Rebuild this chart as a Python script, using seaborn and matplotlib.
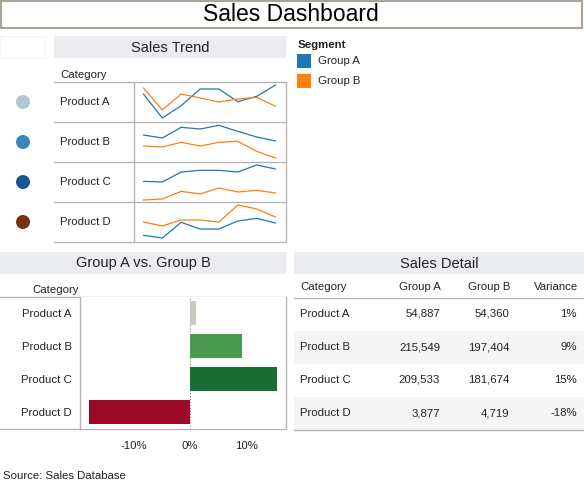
import numpy as np
import pandas as pd
import matplotlib
matplotlib.use("Agg")
import matplotlib.pyplot as plt
from matplotlib.patches import Rectangle, Circle
import seaborn as sns

sns.set_theme(style="white")
plt.rcParams['font.family'] = ['Liberation Sans', 'DejaVu Sans']

## data
categories = ["Product A", "Product B", "Product C", "Product D"]
segments = ["Group A", "Group B"]
periods = [1, 2, 3, 4, 5, 6, 7, 8]
trend_a = {"Product A": [84, 12, 49, 99, 99, 61, 77, 111],
           "Product B": [81, 72, 104, 99, 110, 92, 75, 63],
           "Product C": [62, 60, 90, 95, 95, 90, 111, 99],
           "Product D": [20, 12, 59, 39, 39, 63, 71, 57]}
trend_b = {"Product A": [102, 36, 84, 72, 60, 69, 74, 47],
           "Product B": [48, 45, 59, 48, 59, 62, 32, 12],
           "Product C": [6, 9, 32, 24, 42, 30, 35, 27],
           "Product D": [60, 48, 66, 66, 60, 111, 99, 75]}
group_a = [54887, 215549, 209533, 3877]
group_b = [54360, 197404, 181674, 4719]
variance = [0.97, 9.19, 15.33, -17.84]

seg_colors = ["#1F77B4", "#FF7F0E"]
dot_colors = ["#AFC8D3", "#3A87BD", "#1B5494", "#7A2E14"]
bar_colors = ["#C5CBBF", "#4A9A52", "#1A6E33", "#9B0A26"]

W, H = 584, 484
fig = plt.figure(figsize=(W/100, H/100), dpi=100)

def px_axes(x0, y0, x1, y1):
    return fig.add_axes([x0/W, 1-y1/H, (x1-x0)/W, (y1-y0)/H])

# background axes in pixel coords for boxes / text
bg = fig.add_axes([0, 0, 1, 1])
bg.set_xlim(0, W)
bg.set_ylim(H, 0)
bg.axis('off')

grid_c = "#B4B4B4"
band_c = "#EBECEF"
txt = 8.2

# title
bg.add_patch(Rectangle((1, 1), 581, 27, fill=False, ec="#A8A498", lw=1.5))
bg.text(291, 14.5, "Sales Dashboard", ha='center', va='center', fontsize=16.5, color='black')

# header bands
bg.add_patch(Rectangle((0, 36), 45, 22, fc='white', ec='#F2F2F2', lw=0.6))
bg.add_patch(Rectangle((54, 36), 232, 22, fc=band_c, ec='none'))
bg.text(170, 47.5, "Sales Trend", ha='center', va='center', fontsize=10.5, color='#222222')
bg.add_patch(Rectangle((0, 252), 286, 22, fc=band_c, ec='none'))
bg.text(143, 263.5, "Group A vs. Group B", ha='center', va='center', fontsize=10.5, color='#222222')
bg.add_patch(Rectangle((294, 252), 290, 22, fc=band_c, ec='none'))
bg.text(439, 263.5, "Sales Detail", ha='center', va='center', fontsize=10.5, color='#222222')

# legend
bg.text(298, 45, "Segment", ha='left', va='center', fontsize=txt, fontweight='bold', color='#222222')
for i, s in enumerate(segments):
    y = 61 + i*20
    bg.add_patch(Rectangle((297, y-7), 14, 14, fc=seg_colors[i], ec='none'))
    bg.text(318, y, s, ha='left', va='center', fontsize=txt, color='#222222')

# sparkline table
bg.text(60, 75, "Category", ha='left', va='center', fontsize=txt, color='#222222')
row_top = [82, 122, 162, 202]
for y in row_top + [242]:
    bg.plot([54, 286], [y, y], color=grid_c, lw=1)
bg.plot([134, 134], [82, 242], color=grid_c, lw=1)
bg.plot([285.5, 285.5], [82, 242], color=grid_c, lw=1)
for i, c in enumerate(categories):
    yc = row_top[i] + 20
    bg.add_patch(Circle((23, yc), 7, fc=dot_colors[i], ec='none'))
    bg.text(60, yc, c, ha='left', va='center', fontsize=txt, color='#222222')
    df = pd.DataFrame({"period": periods*2,
                       "sales": trend_a[c] + trend_b[c],
                       "Segment": ["Group A"]*8 + ["Group B"]*8})
    ax = px_axes(134, row_top[i], 285, row_top[i]+40)
    sns.lineplot(data=df, x="period", y="sales", hue="Segment", palette=seg_colors,
                 linewidth=0.9, legend=False, ax=ax)
    ax.set_xlim(0.5, 8.5)
    ax.set_ylim(0, 120)
    ax.axis('off')

# bar chart
bg.text(32, 290, "Category", ha='left', va='center', fontsize=txt, color='#222222')
bg.plot([0, 286], [297, 297], color=grid_c, lw=1)
bg.plot([0, 286], [428.5, 428.5], color=grid_c, lw=1)
axb = px_axes(80, 297, 286, 428.5)
sns.barplot(x=variance, y=categories, hue=categories, palette=bar_colors,
            orient='h', width=0.73, saturation=1, linewidth=0, legend=False, ax=axb)
axb.set_xlim(-19.5, 17)
axb.axvline(0, color='#888888', lw=0.8, ls=':', zorder=0.5)
axb.set_xticks([-10, 0, 10])
axb.set_xticklabels(["-10%", "0%", "10%"], fontsize=txt, color='#222222')
axb.tick_params(axis='x', length=0, pad=9)
axb.tick_params(axis='y', length=0, pad=6, labelsize=txt, labelcolor='#222222')
axb.set_xlabel("")
axb.set_ylabel("")
for s in axb.spines.values():
    s.set_color(grid_c)
    s.set_linewidth(1)
axb.spines['top'].set_visible(False)
axb.spines['bottom'].set_visible(False)

bg.text(3, 476, "Source: Sales Database", ha='left', va='center', fontsize=txt, color='#222222')

# table
hy = 287
bg.text(300, hy, "Category", ha='left', va='center', fontsize=txt, color='#222222')
bg.text(441, hy, "Group A", ha='right', va='center', fontsize=txt, color='#222222')
bg.text(510, hy, "Group B", ha='right', va='center', fontsize=txt, color='#222222')
bg.text(578, hy, "Variance", ha='right', va='center', fontsize=txt, color='#222222')
bg.plot([294, 584], [297.5, 297.5], color=grid_c, lw=1)
for i, c in enumerate(categories):
    y0 = 297.5 + i*33
    if i % 2 == 1:
        bg.add_patch(Rectangle((294, y0), 290, 33, fc='#F5F5F5', ec='none'))
    yc = y0 + 16.5
    bg.text(300, yc, c, ha='left', va='center', fontsize=txt, color='#222222')
    bg.text(440, yc, f"{group_a[i]:,}", ha='right', va='center', fontsize=txt, color='#222222')
    bg.text(509, yc, f"{group_b[i]:,}", ha='right', va='center', fontsize=txt, color='#222222')
    bg.text(577, yc, f"{variance[i]:.0f}%", ha='right', va='center', fontsize=txt, color='#222222')
bg.plot([294, 584], [429.5, 429.5], color=grid_c, lw=1)

fig.savefig("out.png", dpi=100)
